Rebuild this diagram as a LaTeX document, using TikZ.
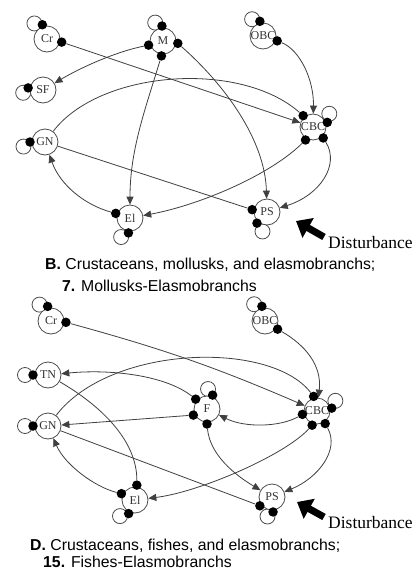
\documentclass[tikz,border=0pt]{standalone}
\usepackage{fontspec}
\setmainfont{Liberation Serif}
\newfontfamily\capfont{Liberation Sans}
\usetikzlibrary{arrows.meta}
% name, x, y, text, loop angle, loop distance, loop-dot angle
\newcommand\mkspn[7]{%
  \coordinate (#1c) at (#2,#3);
  \node[lp] (#1L) at ([shift={(#5:#6)}]#1c) {};
  \node[nd] (#1) at (#1c) {};
  \node[nl] (#1t) at (#1c) {#4};
  \node[dt] (#1d) at ([shift={(#7:15)}]#1c) {};
}
\newcommand\mkdot[3]{\node[dt] (#1) at ([shift={(#3:15)}]#2c) {};}
\begin{document}
\begin{tikzpicture}[x=1pt,y=1pt,
  ln/.style={line width=0.8pt, draw=black!75},
  nd/.style={circle, draw=black!70, line width=0.8pt, fill=white, minimum size=26pt, inner sep=0pt},
  nl/.style={inner sep=0pt, font=\fontsize{12}{12}\selectfont, text=black!80},
  dt/.style={circle, fill=black, minimum size=9.5pt, inner sep=0pt},
  lp/.style={circle, draw=black!70, line width=0.8pt, minimum size=15pt, inner sep=0pt},
  ar/.style={ln, -{Triangle[length=8pt,width=7pt]}},
  dist/.style={line width=7pt, -{Triangle[length=14pt,width=22pt]}},
  captxt/.style={anchor=west, font=\capfont\fontsize{15.8}{18}\selectfont, inner sep=0pt},
  dtxt/.style={anchor=west, font=\fontsize{17.5}{20}\selectfont, inner sep=0pt}
]
\useasboundingbox (0,0) rectangle (414,-570);
\fill[white] (0,0) rectangle (414,-570);

% ---------------- B ----------------
\mkspn{bCr}{47}{-39}{Cr}{129}{20}{108}
\mkspn{bM}{163}{-41}{M}{113}{20}{94}
\mkspn{bSF}{43}{-90}{SF}{188}{20}{172}
\mkspn{bOBC}{263}{-36}{OBC}{123}{20}{102}
\mkspn{bCBC}{313}{-127}{CBC}{39}{21}{18}
\mkspn{bGN}{45}{-142}{GN}{192}{22}{180}
\mkspn{bEl}{130}{-218}{El}{245}{21}{264}
\mkspn{bPS}{267}{-212}{PS}{257}{20}{228}
\mkdot{bCrA}{bCr}{-12}
\mkdot{bMl}{bM}{196}
\mkdot{bMr}{bM}{-9}
\mkdot{bMb}{bM}{264}
\mkdot{bOBCa}{bOBC}{-19}
\mkdot{bCBCtl}{bCBC}{131}
\mkdot{bCBCbl}{bCBC}{240}
\mkdot{bCBCbr}{bCBC}{313}
\mkdot{bElL}{bEl}{162}
\mkdot{bPSl}{bPS}{171}

\draw[ar] (bCrA) -- (bCBC);
\draw[ar] (bMl) .. controls (115,-52) and (80,-68) .. (bSF);
\draw[ar] (bMr) .. controls (225,-85) and (265,-140) .. (bPS);
\draw[ar] (bMb) .. controls (145,-110) and (130,-150) .. (bEl);
\draw[ar] (bOBCa) .. controls (300,-50) and (314,-80) .. (bCBC);
\draw[ln] (bCBCtl) .. controls (240,-60) and (100,-70) .. (bGN);
\draw[ln] (bGN) -- (bPSl);
\draw[ar] (bCBCbl) .. controls (270,-175) and (200,-205) .. (bEl);
\draw[ar] (bCBCbr) .. controls (340,-165) and (320,-195) .. (bPS);
\draw[ar] (bElL) .. controls (85,-205) and (60,-185) .. (bGN);

\coordinate (bDt) at (324,-237);
\coordinate (bDh) at (296,-221);
\draw[dist] (bDt) -- (bDh);
\node[dtxt] (bDist) at (328,-243) {Disturbance};
\node[captxt] (bCap1) at (45,-265) {\textbf{B.} Crustaceans, mollusks, and elasmobranchs;};
\node[captxt] (bCap2) at (62,-286) {\textbf{7.} Mollusks-Elasmobranchs};

% ---------------- D ----------------
\mkspn{dCr}{51}{-321}{Cr}{125}{20}{103}
\mkspn{dOBC}{265}{-321}{OBC}{123}{20}{102}
\mkspn{dTN}{48}{-375}{TN}{180}{23}{180}
\mkspn{dGN}{48}{-426}{GN}{180}{23}{180}
\mkspn{dF}{207}{-409}{F}{87}{20}{68}
\mkspn{dCBC}{317}{-411}{CBC}{29}{21}{11}
\mkspn{dEl}{135}{-500}{El}{227}{22}{245}
\mkspn{dPS}{272}{-497}{PS}{257}{20}{274}
\mkdot{dCrA}{dCr}{-5}
\mkdot{dOBCa}{dOBC}{-33}
\mkdot{dFtl}{dF}{139}
\mkdot{dFl}{dF}{204}
\mkdot{dFb}{dF}{270}
\mkdot{dCBCt}{dCBC}{103}
\mkdot{dCBCl}{dCBC}{193}
\mkdot{dCBCbl}{dCBC}{251}
\mkdot{dCBCbr}{dCBC}{303}
\mkdot{dElt}{dEl}{83}
\mkdot{dEll}{dEl}{155}
\mkdot{dPSbl}{dPS}{216}

\draw[ar] (dCrA) to[bend left=4] (dCBC);
\draw[ar] (dOBCa) .. controls (305,-345) and (322,-365) .. (dCBC);
\draw[ln] (dCBCt) .. controls (270,-340) and (110,-345) .. (dGN);
\draw[ar] (dFtl) .. controls (165,-375) and (110,-369) .. (dTN);
\draw[ln] (dTN) .. controls (100,-405) and (137,-440) .. (dElt);
\draw[ar] (dFl) -- (dGN);
\draw[ln] (dGN) -- (dPSbl);
\draw[ar] (dCBCbl) .. controls (285,-455) and (200,-492) .. (dEl);
\draw[ar] (dCBCbr) .. controls (340,-450) and (318,-478) .. (dPS);
\draw[ar] (dFb) .. controls (210,-455) and (235,-475) .. (dPS);
\draw[ar] (dCBCl) .. controls (280,-427) and (245,-428) .. (dF);
\draw[ar] (dEll) .. controls (95,-487) and (65,-465) .. (dGN);

\coordinate (dDt) at (324,-517);
\coordinate (dDh) at (297,-502);
\draw[dist] (dDt) -- (dDh);
\node[dtxt] (dDist) at (328,-523) {Disturbance};
\node[captxt] (dCap1) at (30,-546) {\textbf{D.} Crustaceans, fishes, and elasmobranchs;};
\node[captxt] (dCap2) at (43,-562) {\textbf{15.} Fishes-Elasmobranchs};
\end{tikzpicture}
\end{document}
